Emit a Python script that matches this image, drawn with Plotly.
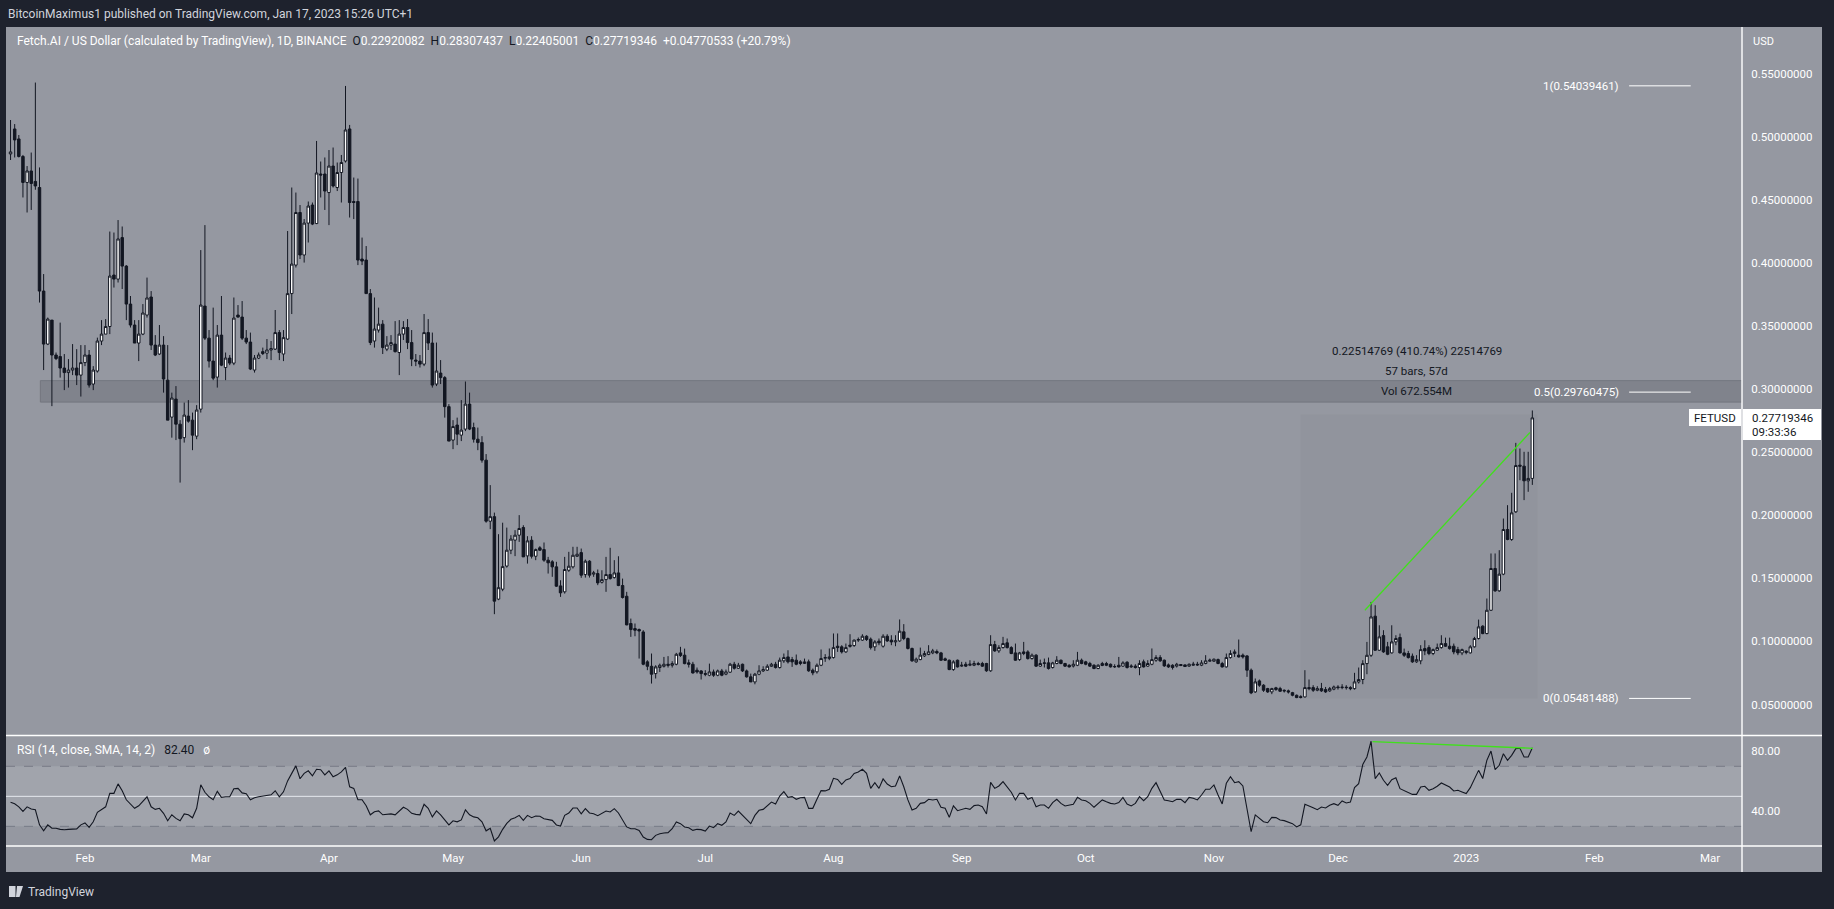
import pandas as pd
import plotly.graph_objects as go

W, H = 1834, 909

START_DATE = "2022-01-14"
END_DATE = "2023-01-17"

OPEN = [
    0.4864, 0.5062, 0.4983, 0.4844, 0.4638, 0.4729, 0.4646, 0.4598, 0.3777, 0.3357,
    0.3547, 0.327, 0.3258, 0.3167, 0.3131, 0.3151, 0.3167, 0.3111, 0.321, 0.327,
    0.304, 0.3143, 0.3381, 0.3436, 0.3496, 0.3904, 0.3872, 0.4201, 0.3975, 0.3674,
    0.3508, 0.3365, 0.3436, 0.3587, 0.373, 0.3349, 0.3278, 0.3349, 0.3071, 0.2778,
    0.2921, 0.2722, 0.2615, 0.2786, 0.2754, 0.2627, 0.2841, 0.3658, 0.3404, 0.3222,
    0.3095, 0.3428, 0.3171, 0.3246, 0.3206, 0.3587, 0.3571, 0.3404, 0.3373, 0.3151,
    0.3246,
    0.3297, 0.3285, 0.331, 0.3317, 0.3448, 0.3278, 0.3397, 0.3757, 0.3983, 0.44,
    0.4063, 0.4316, 0.4459, 0.4312, 0.4705, 0.4705,
    0.4558, 0.4768, 0.4598, 0.4717, 0.4808, 0.5062, 0.4487, 0.4487, 0.4031, 0.4023,
    0.3757, 0.3381, 0.3468, 0.3515, 0.3317, 0.3349, 0.3357, 0.329, 0.3436, 0.3488,
    0.3369, 0.323, 0.3222, 0.3198, 0.3448, 0.3365, 0.304, 0.3127, 0.3091, 0.2861,
    0.2596, 0.2715, 0.2635, 0.2683, 0.2881, 0.2695, 0.2603, 0.2576, 0.2437, 0.1953,
    0.1989, 0.1335, 0.1414, 0.1597, 0.1723, 0.1803,
    0.1842, 0.1903, 0.1678, 0.1802, 0.1675, 0.1742, 0.1728, 0.1644, 0.1631, 0.1591,
    0.144, 0.1393, 0.1564, 0.1591, 0.1675,
    0.1704, 0.153, 0.1636, 0.1533, 0.1538, 0.1469, 0.149, 0.153, 0.1506, 0.1543,
    0.1443, 0.1358, 0.1142, 0.1102, 0.1094, 0.1075, 0.0838, 0.0803, 0.0745, 0.0793,
    0.0803, 0.0819, 0.0811, 0.0819, 0.0909, 0.0891, 0.083, 0.0819, 0.0772, 0.0766,
    0.0745, 0.0732, 0.0758, 0.0732, 0.0766, 0.074, 0.0756, 0.0819, 0.0787, 0.0819,
    0.0766, 0.0719, 0.0679, 0.074, 0.0766, 0.0772, 0.0803,
    0.0819, 0.0793, 0.0846, 0.0877, 0.0856, 0.0851, 0.0838, 0.0825, 0.0838, 0.0772,
    0.0759, 0.0811, 0.0867, 0.0864,
    0.0872, 0.0962, 0.0957, 0.0917, 0.097, 0.0967, 0.101, 0.101, 0.1041, 0.1018,
    0.0957, 0.1002, 0.0962, 0.1041, 0.101, 0.0996, 0.1004, 0.1076, 0.1023, 0.0944,
    0.0838, 0.0856, 0.0885, 0.0896, 0.0909, 0.092, 0.0909, 0.0862, 0.0851, 0.0777,
    0.0851,
    0.0804, 0.0819, 0.0811, 0.0811, 0.0825, 0.0825, 0.0825, 0.0767, 0.0975, 0.0925,
    0.0951, 0.0989, 0.0951, 0.0909, 0.0856, 0.0917,
    0.0917, 0.0864, 0.0891, 0.0804, 0.0825, 0.083, 0.0793, 0.0825, 0.0851, 0.0825,
    0.0811, 0.0804, 0.0811, 0.0851,
    0.0838, 0.0825, 0.0811, 0.0785, 0.0809, 0.0825, 0.0819, 0.0798, 0.0811, 0.0804,
    0.0835, 0.0798, 0.0804, 0.0793, 0.0838, 0.0804, 0.0819, 0.0851, 0.0872, 0.0851,
    0.0814, 0.0811, 0.0804, 0.0817, 0.0814, 0.0804, 0.0811, 0.0819, 0.0811, 0.0825,
    0.0843,
    0.0843, 0.0856, 0.0825, 0.0798, 0.0872, 0.0904, 0.0891, 0.0891, 0.0885, 0.0772,
    0.06, 0.0687, 0.0653, 0.0626, 0.06, 0.0632, 0.0626, 0.0613,
    0.0608, 0.0594, 0.0573, 0.0562, 0.056, 0.0634, 0.0634, 0.0613, 0.0626, 0.0618,
    0.0608, 0.0621,
    0.0639, 0.0634, 0.0637, 0.0634, 0.0626, 0.0679, 0.0698, 0.0824, 0.089, 0.12,
    0.093, 0.1046, 0.0957, 0.0909, 0.0996, 0.1031, 0.0909, 0.0904, 0.0883, 0.0838,
    0.0846, 0.0943, 0.0951, 0.0904, 0.093, 0.0951, 0.0983, 0.0962, 0.0962, 0.0935,
    0.0909,
    0.0922, 0.0909, 0.0957, 0.1023, 0.1121, 0.1062, 0.1247, 0.1578, 0.1401, 0.1533,
    0.1887, 0.1808, 0.2027, 0.2397, 0.2389, 0.2273, 0.22920082,
]

HIGH = [
    0.5133, 0.5101, 0.5014, 0.4856, 0.4768, 0.4875, 0.543, 0.4757, 0.3912, 0.3567,
    0.3547, 0.329, 0.3527, 0.3278, 0.3238, 0.3357, 0.3317, 0.3349, 0.3349, 0.331,
    0.3182, 0.3408, 0.3547, 0.3555, 0.4249, 0.4241, 0.434, 0.4289, 0.3983, 0.3738,
    0.3547, 0.3547, 0.3674, 0.3884, 0.3777, 0.3428, 0.3508, 0.342, 0.3349, 0.2972,
    0.3024, 0.2754, 0.2893, 0.2913, 0.2814, 0.2873, 0.4102, 0.43, 0.3468, 0.3646,
    0.3508, 0.3738, 0.329, 0.327, 0.3726, 0.3666, 0.3698, 0.3468, 0.3448, 0.327,
    0.329,
    0.3329, 0.3397, 0.3381, 0.3627, 0.3468, 0.3468, 0.4253, 0.4598, 0.4558, 0.4459,
    0.4348, 0.4487, 0.4479, 0.4967, 0.4804, 0.4836,
    0.4895, 0.4915, 0.4796, 0.4856, 0.5403, 0.5094, 0.4677, 0.4669, 0.4201, 0.4134,
    0.3793, 0.3726, 0.3646, 0.3547, 0.342, 0.3428, 0.3539, 0.3547, 0.3539, 0.3555,
    0.3468, 0.3278, 0.327, 0.3595, 0.3555, 0.3448, 0.3369, 0.323, 0.3103, 0.2881,
    0.2754, 0.2774, 0.2913, 0.306, 0.2972, 0.2734, 0.2695, 0.2627, 0.2485, 0.2239,
    0.2021, 0.185, 0.1941, 0.1902, 0.1842, 0.1882,
    0.2001, 0.1921, 0.1834, 0.1834, 0.1736, 0.1755, 0.1784, 0.167, 0.1644, 0.1631,
    0.1485, 0.167, 0.171, 0.175, 0.175,
    0.1736, 0.1649, 0.1644, 0.1559, 0.157, 0.1564, 0.167, 0.1742, 0.1644, 0.1675,
    0.1498, 0.1393, 0.1181, 0.1142, 0.1102, 0.1089, 0.0851, 0.0904, 0.0811, 0.0824,
    0.0877, 0.0883, 0.0843, 0.0909, 0.0957, 0.0943, 0.0856, 0.0838, 0.0793, 0.0772,
    0.0772, 0.0824, 0.0777, 0.0777, 0.0782, 0.0777, 0.083, 0.0838, 0.083, 0.0824,
    0.0777, 0.0745, 0.075, 0.0811, 0.0803, 0.0819, 0.083,
    0.0838, 0.0872, 0.0904, 0.093, 0.0877, 0.0896, 0.0851, 0.0864, 0.0856, 0.0785,
    0.0825, 0.0936, 0.0899, 0.0944,
    0.1063, 0.1063, 0.097, 0.0983, 0.1057, 0.1015, 0.1031, 0.1057, 0.1049, 0.1031,
    0.101, 0.1023, 0.1057, 0.1057, 0.1049, 0.1049, 0.1174, 0.1137, 0.1031, 0.0951,
    0.0872, 0.0951, 0.0925, 0.097, 0.0941, 0.0936, 0.0917, 0.0872, 0.0856, 0.0851,
    0.0856,
    0.0838, 0.0838, 0.0851, 0.0846, 0.0838, 0.0838, 0.083, 0.1049, 0.1004, 0.097,
    0.1036, 0.1023, 0.0962, 0.0983, 0.0917, 0.0996,
    0.093, 0.0904, 0.0899, 0.0856, 0.0864, 0.0872, 0.0838, 0.0883, 0.0856, 0.083,
    0.0819, 0.0851, 0.0917, 0.0864,
    0.0846, 0.0838, 0.0819, 0.0819, 0.0838, 0.0838, 0.0825, 0.0819, 0.0877, 0.0843,
    0.0843, 0.0819, 0.0819, 0.0851, 0.0856, 0.0851, 0.0944, 0.0891, 0.0891, 0.0856,
    0.0825, 0.0819, 0.083, 0.0817, 0.0817, 0.0825, 0.0838, 0.0838, 0.0851, 0.0891,
    0.0864,
    0.0864, 0.0864, 0.0838, 0.0904, 0.093, 0.0936, 0.1015, 0.0904, 0.0891, 0.0785,
    0.0706, 0.0698, 0.0661, 0.0632, 0.0632, 0.064, 0.064, 0.0619,
    0.0618, 0.06, 0.0579, 0.0573, 0.0772, 0.0698, 0.0653, 0.0645, 0.0671, 0.0639,
    0.0639, 0.065,
    0.0653, 0.0661, 0.0653, 0.0645, 0.0751, 0.0793, 0.0851, 0.0996, 0.1313, 0.1287,
    0.1128, 0.1089, 0.0996, 0.1128, 0.1049, 0.1062, 0.0943, 0.0925, 0.0904, 0.0891,
    0.097, 0.1009, 0.097, 0.0943, 0.0983, 0.1049, 0.103, 0.103, 0.0983, 0.0957,
    0.0943,
    0.093, 0.097, 0.1036, 0.1173, 0.1128, 0.134, 0.1697, 0.1697, 0.1723, 0.1974,
    0.208, 0.2178, 0.2574, 0.2529, 0.2503, 0.2503, 0.28307437,
]

LOW = [
    0.4816, 0.4836, 0.4836, 0.4519, 0.44, 0.442, 0.458, 0.3686, 0.3151, 0.3349,
    0.2865, 0.323, 0.3091, 0.2992, 0.3012, 0.3111, 0.3032, 0.2941, 0.3182, 0.3012,
    0.2992, 0.3131, 0.3349, 0.3436, 0.3436, 0.3805, 0.3845, 0.3793, 0.3547, 0.3488,
    0.3365, 0.3222, 0.3428, 0.3567, 0.331, 0.3262, 0.327, 0.2972, 0.2754, 0.2615,
    0.2596, 0.2259, 0.2576, 0.2734, 0.2516, 0.2603, 0.2814, 0.3389, 0.3171, 0.3071,
    0.3012, 0.3182, 0.3071, 0.319, 0.319, 0.3567, 0.3389, 0.3357, 0.3151, 0.3131,
    0.3238,
    0.327, 0.3238, 0.323, 0.331, 0.323, 0.3222, 0.3389, 0.3595, 0.3964, 0.4031,
    0.4003, 0.4162, 0.43, 0.4308, 0.4519, 0.442,
    0.43, 0.4598, 0.457, 0.4479, 0.4796, 0.436, 0.4348, 0.3983, 0.3983, 0.3757,
    0.3349, 0.3329, 0.3448, 0.3278, 0.3301, 0.331, 0.329, 0.3111, 0.3389, 0.3317,
    0.3182, 0.3182, 0.3171, 0.3182, 0.331, 0.3012, 0.3024, 0.304, 0.2774, 0.2588,
    0.2524, 0.2556, 0.2588, 0.2667, 0.2675, 0.2576, 0.2516, 0.2417, 0.1941, 0.189,
    0.1216, 0.1327, 0.1398, 0.1585, 0.1692, 0.1676,
    0.1789, 0.167, 0.1617, 0.1657, 0.1644, 0.1718, 0.1631, 0.1538, 0.1512, 0.1432,
    0.1353, 0.1379, 0.1551, 0.1578, 0.167,
    0.1504, 0.1506, 0.1506, 0.1512, 0.1446, 0.1459, 0.1393, 0.149, 0.1498, 0.1438,
    0.134, 0.1128, 0.1036, 0.1041, 0.0864, 0.0811, 0.0772, 0.0666, 0.0706, 0.0758,
    0.0793, 0.0793, 0.0793, 0.0811, 0.0877, 0.0819, 0.0793, 0.0745, 0.0745, 0.0698,
    0.0724, 0.0724, 0.0719, 0.0724, 0.0724, 0.0732, 0.075, 0.0777, 0.0782, 0.0758,
    0.0713, 0.0679, 0.066, 0.0732, 0.0758, 0.0766, 0.0798,
    0.0785, 0.0785, 0.083, 0.0825, 0.0798, 0.0811, 0.0811, 0.0825, 0.0759, 0.0732,
    0.0745, 0.0804, 0.0838, 0.0851,
    0.0864, 0.0917, 0.0904, 0.0909, 0.0951, 0.0957, 0.0996, 0.1004, 0.1004, 0.0936,
    0.0925, 0.097, 0.0951, 0.0996, 0.097, 0.0962, 0.0996, 0.101, 0.0936, 0.0838,
    0.083, 0.0851, 0.0877, 0.0891, 0.0899, 0.0899, 0.0846, 0.0846, 0.0772, 0.0767,
    0.0793,
    0.0798, 0.0798, 0.0804, 0.0804, 0.0809, 0.0798, 0.0759, 0.0759, 0.0917, 0.0909,
    0.0944, 0.0944, 0.0899, 0.0846, 0.0846, 0.0891,
    0.0856, 0.0856, 0.0798, 0.0798, 0.0793, 0.0777, 0.0785, 0.0819, 0.0819, 0.0798,
    0.0793, 0.0793, 0.0804, 0.0819,
    0.0811, 0.0798, 0.078, 0.078, 0.0804, 0.0804, 0.0793, 0.079, 0.0793, 0.0798,
    0.0785, 0.079, 0.0785, 0.0732, 0.0793, 0.0798, 0.0811, 0.0838, 0.0838, 0.0798,
    0.079, 0.0777, 0.0793, 0.0804, 0.0798, 0.0798, 0.0806, 0.0806, 0.0804, 0.0819,
    0.0838,
    0.0838, 0.0819, 0.0793, 0.0793, 0.0864, 0.0877, 0.0872, 0.0864, 0.0719, 0.0582,
    0.0592, 0.064, 0.06, 0.0592, 0.0582, 0.0608, 0.06, 0.0595,
    0.0587, 0.0565, 0.055, 0.05481488, 0.0555, 0.0613, 0.06, 0.0605, 0.06, 0.0592,
    0.06, 0.0613,
    0.0618, 0.0621, 0.0618, 0.0613, 0.0618, 0.0666, 0.0661, 0.074, 0.0877, 0.0925,
    0.0925, 0.0909, 0.0891, 0.0904, 0.097, 0.0904, 0.0877, 0.0864, 0.083, 0.083,
    0.0819, 0.0891, 0.0891, 0.0891, 0.0925, 0.0943, 0.0957, 0.0935, 0.0898, 0.0891,
    0.0891,
    0.0898, 0.0904, 0.0951, 0.1015, 0.1057, 0.1057, 0.1242, 0.1393, 0.1393, 0.1525,
    0.1802, 0.1797, 0.2019, 0.2278, 0.212, 0.2186, 0.22405001,
]

CLOSE = [
    0.488, 0.4975, 0.4844, 0.4638, 0.4729, 0.463, 0.461, 0.3777, 0.3357, 0.3555,
    0.327, 0.3242, 0.3167, 0.3131, 0.3151, 0.3167, 0.3111, 0.321, 0.327, 0.3032,
    0.3151, 0.3381, 0.3436, 0.3496, 0.3896, 0.3872, 0.419, 0.3975, 0.3674, 0.3508,
    0.3365, 0.3436, 0.3603, 0.3722, 0.3349, 0.327, 0.3349, 0.308, 0.2754, 0.2929,
    0.2722, 0.2607, 0.2794, 0.2746, 0.2635, 0.2834, 0.3666, 0.3404, 0.3222, 0.3087,
    0.3428, 0.319, 0.3246, 0.3206, 0.3563, 0.3571, 0.3404, 0.3373, 0.3159, 0.3246,
    0.327,
    0.3282, 0.331, 0.3321, 0.3448, 0.329, 0.3408, 0.3757, 0.3991, 0.44, 0.4063,
    0.4316, 0.4451, 0.4308, 0.4713, 0.4697, 0.457,
    0.4768, 0.461, 0.4717, 0.4796, 0.5054, 0.4479, 0.4479, 0.4023, 0.4015, 0.3757,
    0.3369, 0.3476, 0.3515, 0.3329, 0.3349, 0.3369, 0.3297, 0.3436, 0.3488, 0.3369,
    0.3238, 0.3222, 0.3198, 0.3448, 0.3365, 0.3032, 0.3143, 0.3091, 0.2861, 0.2588,
    0.2703, 0.2643, 0.2675, 0.2881, 0.2683, 0.2603, 0.2576, 0.2437, 0.1953, 0.1989,
    0.1319, 0.1426, 0.1593, 0.1723, 0.1811, 0.1842,
    0.1895, 0.167, 0.1797, 0.1675, 0.1728, 0.1723, 0.1644, 0.1623, 0.1591, 0.1438,
    0.1385, 0.157, 0.1596, 0.1683, 0.1691,
    0.1525, 0.1636, 0.1525, 0.1543, 0.1464, 0.149, 0.153, 0.1498, 0.1543, 0.1443,
    0.1348, 0.1131, 0.1094, 0.1089, 0.1083, 0.0819, 0.0803, 0.074, 0.0798, 0.0811,
    0.0819, 0.0811, 0.0824, 0.0898, 0.0888, 0.0824, 0.0819, 0.075, 0.0758, 0.0745,
    0.074, 0.0758, 0.0732, 0.0766, 0.0732, 0.0758, 0.0819, 0.0787, 0.0811, 0.0766,
    0.0719, 0.0679, 0.074, 0.0766, 0.0777, 0.0803, 0.0819,
    0.0793, 0.0851, 0.0872, 0.0838, 0.0838, 0.0819, 0.0825, 0.0838, 0.0767, 0.0751,
    0.0811, 0.0864, 0.0872, 0.0877,
    0.0951, 0.0951, 0.0917, 0.0951, 0.0962, 0.101, 0.1015, 0.1041, 0.1015, 0.0951,
    0.0996, 0.0989, 0.1041, 0.1004, 0.0996, 0.1004, 0.1081, 0.1023, 0.0944, 0.0846,
    0.0859, 0.0891, 0.0904, 0.0917, 0.0925, 0.0909, 0.0851, 0.0851, 0.0777, 0.0838,
    0.0798,
    0.0811, 0.0804, 0.0819, 0.0825, 0.0817, 0.0804, 0.0767, 0.0975, 0.0925, 0.0951,
    0.0983, 0.0951, 0.0904, 0.0851, 0.0909, 0.0904,
    0.0864, 0.0891, 0.0804, 0.0825, 0.083, 0.0785, 0.083, 0.0851, 0.0825, 0.0804,
    0.0798, 0.0819, 0.0851, 0.0825,
    0.0819, 0.0804, 0.0785, 0.0811, 0.0825, 0.0811, 0.0798, 0.0801, 0.0798, 0.083,
    0.0793, 0.0804, 0.0793, 0.0825, 0.0798, 0.0825, 0.0856, 0.0872, 0.0846, 0.0806,
    0.0798, 0.0793, 0.0819, 0.0809, 0.0801, 0.0819, 0.0819, 0.0814, 0.083, 0.0846,
    0.0851,
    0.0859, 0.0825, 0.0798, 0.0872, 0.0904, 0.0917, 0.0877, 0.0877, 0.0772, 0.0592,
    0.0679, 0.0653, 0.0613, 0.06, 0.0626, 0.0619, 0.0605, 0.0608,
    0.06, 0.0573, 0.0555, 0.0556, 0.0634, 0.0626, 0.0613, 0.0626, 0.0608, 0.06,
    0.0626, 0.0639,
    0.0634, 0.0637, 0.0634, 0.0626, 0.0679, 0.0698, 0.0824, 0.089, 0.1194, 0.093,
    0.1036, 0.0917, 0.0898, 0.0996, 0.1023, 0.0909, 0.089, 0.0872, 0.0838, 0.0856,
    0.0935, 0.0925, 0.0904, 0.0935, 0.0951, 0.0983, 0.0962, 0.0943, 0.0917, 0.0909,
    0.0935,
    0.0914, 0.0957, 0.1023, 0.1115, 0.1062, 0.1247, 0.1578, 0.1401, 0.1533, 0.1887,
    0.1808, 0.2019, 0.2394, 0.2389, 0.2273, 0.22920082, 0.27719346,
]

RSI = [
    46, 45, 43, 40, 43, 41.5, 41, 31, 27, 31,
    28.7, 28.7, 28, 27.7, 28, 28.3, 28.3, 31, 32.3, 29.3,
    33, 39.3, 41.3, 43, 52, 52, 58.3, 53.7, 47.7, 44.7,
    42, 43.7, 47, 49.7, 43, 41.3, 42, 38.7, 33.7, 37.7,
    35.3, 33.7, 38.3, 37.7, 35.7, 42, 57.7, 52.7, 49.7, 47.7,
    53.3, 49.3, 49.7, 49.7, 55, 55.3, 52.3, 51.7, 47.7, 49,
    49.7,
    50, 50.3, 51, 53.7, 49.7, 53, 60.3, 65.3, 70.3, 61.7,
    65.3, 67, 63.7, 68, 67.7, 64.3,
    67, 63, 64.3, 66.3, 69.3, 56.3, 55.3, 47.7, 47.7, 43.7,
    37.7, 39.7, 40.3, 37.7, 38, 38.3, 37.7, 40.3, 42.7, 41.3,
    38.7, 38, 37.7, 44.7, 42, 36.3, 40.3, 37.7, 34.3, 31,
    33.7, 33, 34.3, 41, 37.7, 36.3, 35.7, 33, 27, 28.7,
    20.3, 23, 28, 32, 34.7, 35.7,
    37.3, 34, 37.3, 35.8, 36.9, 36.7, 35.1, 34.7, 34, 30.9,
    30.2, 37.3, 38.9, 42.2, 42.2,
    38.4, 41.8, 38.9, 38.4, 37.1, 38.4, 40.2, 39.6, 41.8, 38.9,
    34.4, 29.6, 28.4, 28.4, 27.3, 22.9, 21.3, 21.1, 24, 25.1,
    25.6, 25.8, 28.4, 32.9, 31.8, 29.6, 29.1, 27.3, 28, 27.8,
    26.9, 30.2, 29.1, 31.8, 30.7, 32.9, 38.9, 37.3, 40.2, 37.3,
    34.4, 31.8, 37.3, 40.7, 41.3, 44, 46.2,
    44.9, 50.2, 53.1, 49.3, 49.8, 48, 49.1, 49.3, 42, 42,
    48, 53.8, 53.6, 54.7,
    62, 61.3, 58, 60.9, 61.8, 65.3, 66.2, 68, 65.3, 55.3,
    59.1, 55.3, 61.6, 58.2, 56.4, 56.9, 63.6, 56.4, 47.6, 40.9,
    42, 45.3, 45.8, 48, 47.6, 48, 42.7, 42, 36, 43.6,
    40.4,
    41.3, 42, 41.3, 43.8, 44.2, 43.1, 38.2, 59.3, 55.3, 56.9,
    59.8, 56.4, 52.7, 47.6, 52, 52,
    48, 49.3, 43.1, 44.2, 44.2, 42, 45.8, 48, 45.3, 43.6,
    44.2, 44.7, 49.3, 47.6,
    47.1, 45.3, 42.7, 45.3, 47.6, 46.4, 45.3, 44.9, 45.8, 49.3,
    44.9, 43.6, 45.3, 49.8, 47.1, 49.8, 55.3, 59.1, 53.1, 47.6,
    47.1, 46.4, 48, 48, 45.8, 49.3, 48.7, 47.6, 50.9, 54.7,
    54.7,
    57.6, 50.9, 44.9, 58.7, 63.1, 59.1, 59.8, 56.9, 42, 26.4,
    37.6, 35.3, 33.1, 32.4, 36, 35.8, 34.2, 33.8,
    32.9, 31.8, 29.6, 31, 44.7, 43.3, 42.4, 41.1, 42.9, 42.2,
    44, 45.1,
    44, 46.9, 45.6, 46.2, 55.8, 58.4, 71.3, 76.2, 86.7, 61.8,
    65.6, 60.7, 57.3, 61.1, 62.4, 55.1, 54, 52.9, 51.3, 51.3,
    56.2, 56.7, 54, 55.1, 56.7, 58.9, 57.3, 56.2, 53.6, 54,
    52.9,
    51.8, 55.8, 61.1, 67.3, 61.8, 74, 80.2, 67.8, 70.7, 78.4,
    74, 77.3, 81.8, 82, 76.2, 76.2, 82.4,
]

MONTH_TICKS = ["2022-02-01", "2022-03-01", "2022-04-01", "2022-05-01", "2022-06-01",
               "2022-07-01", "2022-08-01", "2022-09-01", "2022-10-01", "2022-11-01",
               "2022-12-01", "2023-01-01", "2023-02-01", "2023-03-01"]
MONTH_LABELS = ["Feb", "Mar", "Apr", "May", "Jun", "Jul", "Aug", "Sep", "Oct", "Nov",
                "Dec", "2023", "Feb", "Mar"]
PRICE_TICKS = [0.05, 0.10, 0.15, 0.20, 0.25, 0.30, 0.35, 0.40, 0.45, 0.50, 0.55]
RSI_TICKS = [40, 80]
RSI_LABELS = ["40.00", "80.00"]

FIB_LEVELS = [0.54039461, 0.29760475, 0.05481488]
FIB_LABELS = ["1(0.54039461)", "0.5(0.29760475)", "0(0.05481488)"]

ZONE_LOW, ZONE_HIGH = 0.2897, 0.3067
ZONE_START = "2022-01-21 05:00"

BOX_START, BOX_END = "2022-11-22 00:00", "2023-01-18 06:00"
BOX_LOW, BOX_HIGH = 0.05481488, 0.27996257

PRICE_TREND_X = ["2022-12-07 12:00", "2023-01-16 10:00"]
PRICE_TREND_Y = [0.1247, 0.2656]
RSI_TREND_X = ["2022-12-09 08:00", "2023-01-17 04:00"]
RSI_TREND_Y = [86.4, 82.0]

LAST_PRICE = 0.27719346

X_RANGE = ["2022-01-12 21:36", "2023-03-08 16:48"]
PRICE_RANGE = [0.02542, 0.58703]
RSI_RANGE = [16.9, 90.2]

# ---------------------------------------------------------------------------
dates = pd.date_range(START_DATE, END_DATE, freq="D")
assert len(dates) == len(OPEN) == len(HIGH) == len(LOW) == len(CLOSE) == len(RSI)
hi = [max(h, o, c) for h, o, c in zip(HIGH, OPEN, CLOSE)]
lo = [min(l, o, c) for l, o, c in zip(LOW, OPEN, CLOSE)]

BG_DARK = "#1e222d"
BG_GRAY = "#9598a1"
INK = "#131722"
WHITE = "#ffffff"
GREEN = "#40e01c"
FONT = "Roboto, 'Noto Sans', sans-serif"


def px(x):
    return x / W


def py(y):
    return 1 - y / H


fig = go.Figure()

fig.add_trace(go.Candlestick(
    x=dates, open=OPEN, high=hi, low=lo, close=CLOSE,
    xaxis="x", yaxis="y",
    increasing=dict(line=dict(color=INK, width=1), fillcolor=WHITE),
    decreasing=dict(line=dict(color=INK, width=1), fillcolor=INK),
    whiskerwidth=0, showlegend=False, hoverinfo="skip",
))

fig.add_trace(go.Scatter(
    x=PRICE_TREND_X, y=PRICE_TREND_Y, mode="lines", xaxis="x", yaxis="y",
    line=dict(color=GREEN, width=1.3), showlegend=False, hoverinfo="skip",
))

fig.add_trace(go.Scatter(
    x=dates, y=RSI, mode="lines", xaxis="x2", yaxis="y2",
    line=dict(color=INK, width=1.1), showlegend=False, hoverinfo="skip",
))

fig.add_trace(go.Scatter(
    x=RSI_TREND_X, y=RSI_TREND_Y, mode="lines", xaxis="x2", yaxis="y2",
    line=dict(color=GREEN, width=1.3), showlegend=False, hoverinfo="skip",
))

shapes = []
shapes.append(dict(type="rect", xref="paper", yref="paper", x0=px(6), x1=px(1822),
                   y0=py(872), y1=py(27), fillcolor=BG_GRAY, line=dict(width=0),
                   layer="below"))
shapes.append(dict(type="rect", xref="x", yref="y", x0=ZONE_START, x1=X_RANGE[1],
                   y0=ZONE_LOW, y1=ZONE_HIGH, fillcolor="#80838c",
                   line=dict(color="#73767f", width=1), layer="below"))
shapes.append(dict(type="rect", xref="x", yref="y", x0=BOX_START, x1=BOX_END,
                   y0=BOX_LOW, y1=BOX_HIGH, fillcolor="rgba(120,123,134,0.13)",
                   line=dict(width=0), layer="below"))
for lvl in FIB_LEVELS:
    shapes.append(dict(type="line", xref="x", yref="y", x0="2023-02-09 09:36",
                       x1="2023-02-24 07:12", y0=lvl, y1=lvl,
                       line=dict(color=WHITE, width=1)))
shapes.append(dict(type="rect", xref="x2", yref="y2", x0=X_RANGE[0], x1=X_RANGE[1],
                   y0=30, y1=70, fillcolor="#a1a4ac", line=dict(width=0), layer="below"))
for lvl in (70, 30):
    shapes.append(dict(type="line", xref="x2", yref="y2", x0=X_RANGE[0], x1=X_RANGE[1],
                       y0=lvl, y1=lvl, line=dict(color="#787b86", width=1, dash="dash"),
                       layer="below"))
shapes.append(dict(type="line", xref="x2", yref="y2", x0=X_RANGE[0], x1=X_RANGE[1],
                   y0=50, y1=50, line=dict(color="#e6e8ee", width=1), layer="below"))
for yy in (735.5, 846):
    shapes.append(dict(type="line", xref="paper", yref="paper", x0=px(6), x1=px(1822),
                       y0=py(yy), y1=py(yy), line=dict(color=WHITE, width=1.6)))
shapes.append(dict(type="line", xref="paper", yref="paper", x0=px(1742), x1=px(1742),
                   y0=py(872), y1=py(27), line=dict(color=WHITE, width=1.4)))
shapes.append(dict(type="rect", xref="paper", yref="paper", x0=px(1743), x1=px(1821),
                   y0=py(440), y1=py(409), fillcolor=WHITE, line=dict(width=0)))
shapes.append(dict(type="rect", xref="paper", yref="paper", x0=px(1689), x1=px(1741),
                   y0=py(426), y1=py(409), fillcolor=WHITE, line=dict(width=0)))
shapes.append(dict(type="rect", xref="paper", yref="paper", x0=px(9), x1=px(15.5),
                   y0=py(897), y1=py(886), fillcolor="#d1d4dc", line=dict(width=0)))
shapes.append(dict(type="path", xref="paper", yref="paper",
                   path=f"M {px(17)} {py(886)} L {px(23)} {py(886)} L {px(19.5)} {py(897)} L {px(16)} {py(897)} Z",
                   fillcolor="#d1d4dc", line=dict(width=0)))

ann = []


def add_text(x, y, text, color=WHITE, size=11, xanchor="left", xref="paper", yref="paper"):
    ann.append(dict(x=x, y=y, xref=xref, yref=yref, text=text, showarrow=False,
                    xanchor=xanchor, yanchor="middle",
                    font=dict(family=FONT, size=size, color=color)))


add_text(px(6), py(14), "BitcoinMaximus1 published on TradingView.com, Jan 17, 2023 15:26 UTC+1",
         color="#d1d4dc", size=12)
dk = f"<span style='color:{INK}'>"
title = ("Fetch.AI / US Dollar (calculated by TradingView), 1D, BINANCE  "
         f"{dk}O</span>0.22920082  {dk}H</span>0.28307437  {dk}L</span>0.22405001  "
         f"{dk}C</span>0.27719346  +0.04770533 (+20.79%)")
add_text(px(15), py(41), title, size=12)
add_text(px(1751), py(41), "USD", size=11)
add_text(px(15), py(750),
         f"RSI (14, close, SMA, 14, 2)   {dk}82.40</span>   ø", size=12)

for lvl, lab in zip(FIB_LEVELS, FIB_LABELS):
    add_text("2023-02-07 12:00", lvl, lab, size=11.5, xanchor="right", xref="x", yref="y")

add_text("2022-12-20 00:00", py(351), "0.22514769 (410.74%) 22514769", color=INK,
         size=11.5, xanchor="center", xref="x")
add_text("2022-12-20 00:00", py(371), "57 bars, 57d", color=INK, size=11.5,
         xanchor="center", xref="x")
add_text("2022-12-20 00:00", py(391.5), "Vol 672.554M", color=INK, size=11.5,
         xanchor="center", xref="x")

add_text(px(1715), py(417.5), "FETUSD", color=INK, size=11.5, xanchor="center")
add_text(px(1750), py(418), f"{LAST_PRICE:.8f}", color=INK, size=11.5)
add_text(px(1750), py(431.5), "09:33:36", color=INK, size=11.5)
add_text(px(26), py(891.5), "TradingView", color="#d1d4dc", size=12)

axis_common = dict(showgrid=False, zeroline=False, showline=False)

fig.update_layout(
    width=W, height=H,
    margin=dict(l=0, r=0, t=0, b=0),
    paper_bgcolor=BG_DARK, plot_bgcolor="rgba(0,0,0,0)",
    showlegend=False, boxgap=0.15,
    font=dict(family=FONT, color=WHITE, size=11),
    shapes=shapes, annotations=ann,
    xaxis=dict(domain=[px(6), px(1742)], range=X_RANGE, type="date", anchor="y",
               showticklabels=False, ticks="", rangeslider=dict(visible=False),
               **axis_common),
    xaxis2=dict(domain=[px(6), px(1742)], range=X_RANGE, type="date", anchor="y2",
                matches="x", tickvals=MONTH_TICKS, ticktext=MONTH_LABELS,
                ticks="outside", ticklen=1, tickcolor="rgba(0,0,0,0)",
                tickfont=dict(family=FONT, size=11.5, color=WHITE), **axis_common),
    yaxis=dict(domain=[py(735.5), py(27)], range=PRICE_RANGE, anchor="x", side="right",
               tickvals=PRICE_TICKS, tickformat=".8f", ticks="outside", ticklen=6,
               tickcolor="rgba(0,0,0,0)",
               tickfont=dict(family=FONT, size=11.5, color=WHITE), **axis_common),
    yaxis2=dict(domain=[py(846), py(736)], range=RSI_RANGE, anchor="x2", side="right",
                tickvals=RSI_TICKS, ticktext=RSI_LABELS, ticks="outside", ticklen=6,
                tickcolor="rgba(0,0,0,0)",
                tickfont=dict(family=FONT, size=11.5, color=WHITE), **axis_common),
)

fig.write_html(
    "out.html",
    config={"displayModeBar": False},
    post_script="document.body.style.margin='0px';document.body.style.overflow='hidden';",
)
